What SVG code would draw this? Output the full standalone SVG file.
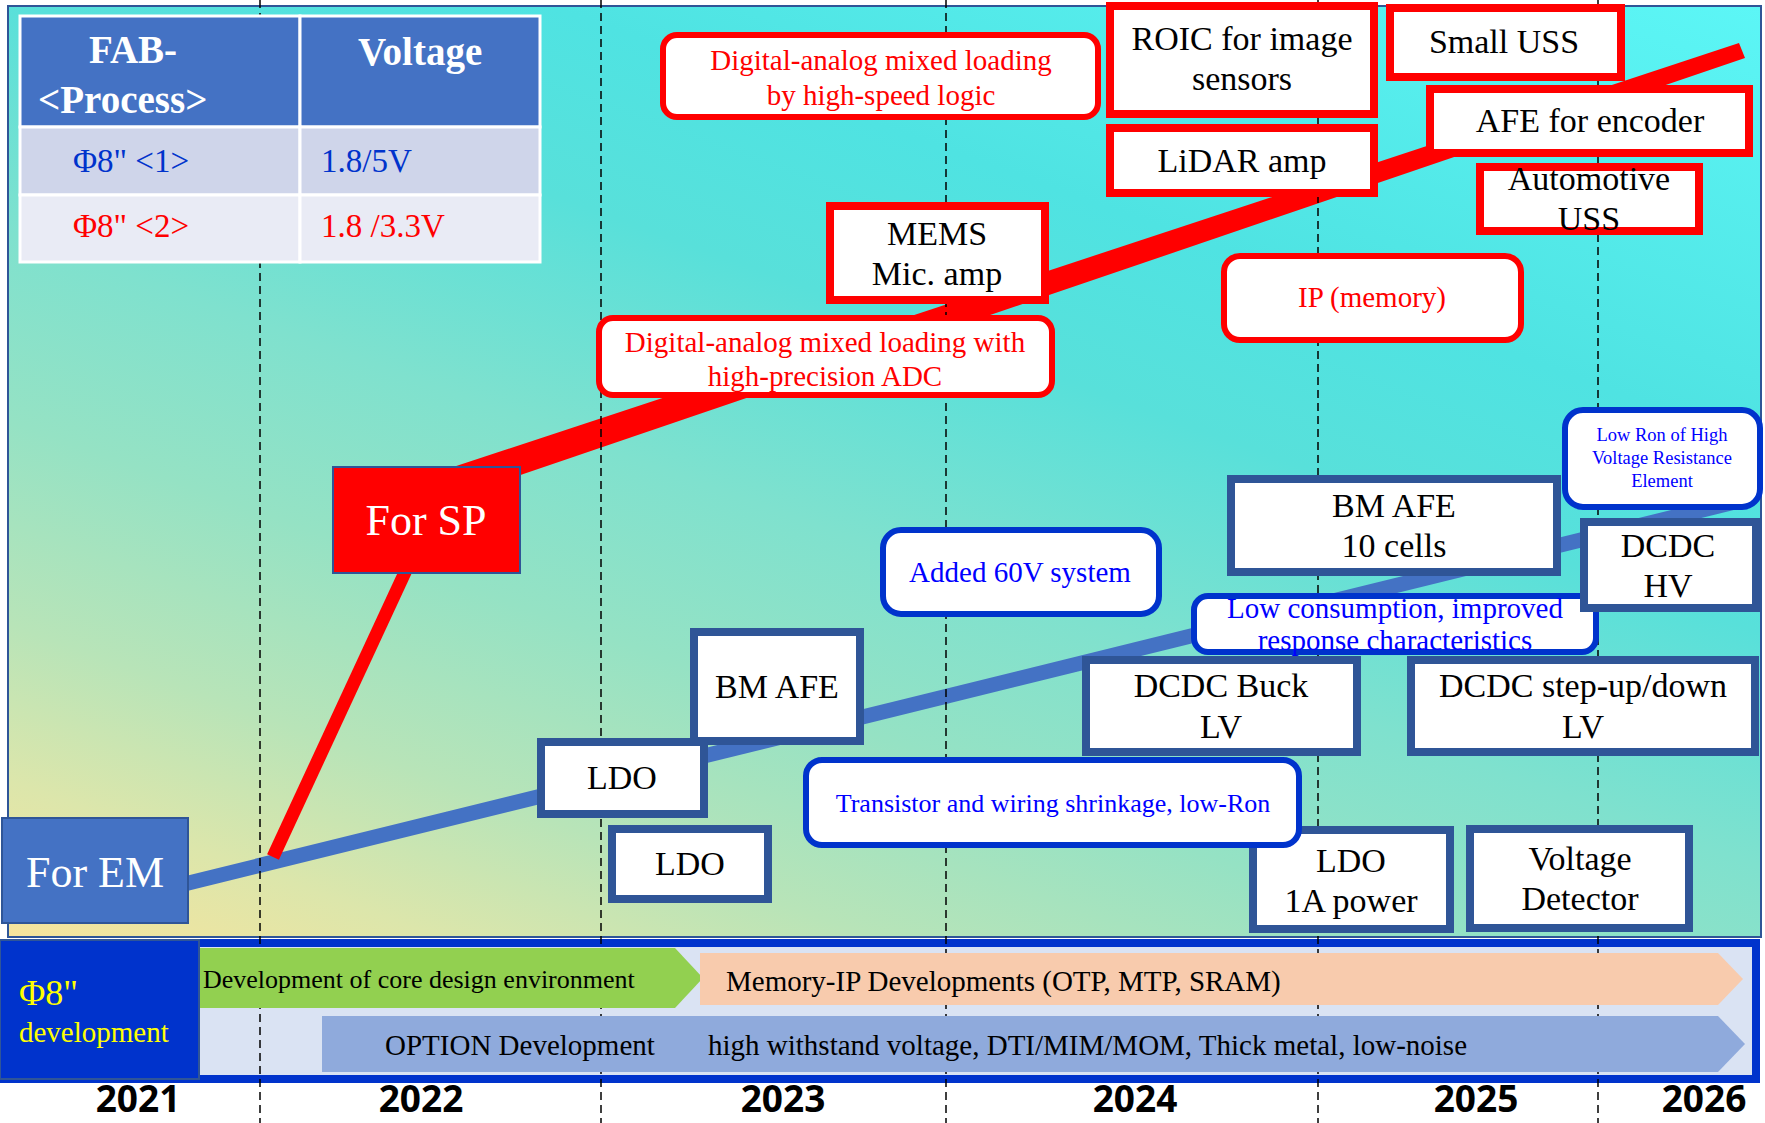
<svg xmlns="http://www.w3.org/2000/svg" width="1765" height="1123" viewBox="0 0 1765 1123">
<defs>
<linearGradient id="bg" gradientUnits="userSpaceOnUse" x1="8" y1="937" x2="509" y2="-447">
<stop offset="0" stop-color="#F7E49C"/>
<stop offset="0.1" stop-color="#DCE6AB"/>
<stop offset="0.2" stop-color="#B8E4B8"/>
<stop offset="0.33" stop-color="#95E2C4"/>
<stop offset="0.45" stop-color="#7FE1CE"/>
<stop offset="0.6" stop-color="#58E0DA"/>
<stop offset="0.72" stop-color="#4FE3E2"/>
<stop offset="1" stop-color="#5CF6F6"/>
</linearGradient>
<style>
text{font-family:"Liberation Serif","Times New Roman",serif;}
.c{text-anchor:middle}
.k{fill:#000;font-size:34px}
.rt{fill:#FF0000;font-size:29px}
.bt{fill:#0000FF;font-size:29px}
.db{fill:#FFFFFF;stroke:#2F5597;stroke-width:8}
.rb{fill:#FFFFFF;stroke:#FF0000;stroke-width:8}
.rr{fill:#FFFFFF;stroke:#FF0000;stroke-width:6}
.br{fill:#FFFFFF;stroke:#0033CC;stroke-width:6}
.grid{stroke:#000;stroke-width:1.5;stroke-dasharray:8 5;fill:none}
.yr{font-family:"Open Sans","Liberation Sans",sans-serif;font-weight:700;font-size:37px;fill:#000;text-anchor:middle}
.cell{stroke:#FFFFFF;stroke-width:3}
.bandt{fill:#000;font-size:29px}
</style>
</defs>

<rect x="0" y="0" width="1765" height="1123" fill="#FFFFFF"/>
<!-- main panel -->
<rect id="panel" x="8" y="6" width="1753" height="931" fill="url(#bg)" stroke="#2F5597" stroke-width="2"/>

<!-- bottom band background -->
<rect id="band" x="4" y="943" width="1752" height="136" fill="#DAE3F3" stroke="#0033CC" stroke-width="8"/>

<g id="connectors">
<line x1="160" y1="890" x2="1735" y2="502" stroke="#4472C4" stroke-width="15"/>
<line x1="273" y1="857" x2="420" y2="540" stroke="#FF0000" stroke-width="13"/>
<polygon points="438,472 456,497 1745,58 1739,43" fill="#FF0000"/>
</g>

<g id="gridlines">
<line class="grid" x1="260" y1="0" x2="260" y2="1123"/>
<line class="grid" x1="601" y1="0" x2="601" y2="1123"/>
<line class="grid" x1="946" y1="0" x2="946" y2="1123"/>
<line class="grid" x1="1318" y1="0" x2="1318" y2="1123"/>
<line class="grid" x1="1598" y1="0" x2="1598" y2="1123"/>
</g>

<!-- band contents -->
<g id="band-core">
<polygon points="199,948 675,948 703,978 675,1008 199,1008" fill="#92D050"/>
<text x="203" y="988" font-size="26" fill="#000">Development of core design environment</text>
</g>
<g id="band-memory">
<polygon points="700,953 1718,953 1743,979 1718,1005 700,1005" fill="#F8CBAD"/>
<text class="bandt" x="726" y="991">Memory-IP Developments (OTP, MTP, SRAM)</text>
</g>
<g id="band-option">
<polygon points="322,1016 1718,1016 1745,1044 1718,1072 322,1072" fill="#8FAADC"/>
<text class="bandt" x="385" y="1055">OPTION Development</text>
<text class="bandt" x="708" y="1055">high withstand voltage, DTI/MIM/MOM, Thick metal, low-noise</text>
</g>
<g id="band-label">
<rect x="0" y="940" width="199" height="139" fill="#0033CC" stroke="#2F5597" stroke-width="2"/>
<text x="19" y="1005" font-size="36" fill="#FFFF00">Φ8"</text>
<text x="19" y="1042" font-size="29" fill="#FFFF00">development</text>
</g>

<!-- table -->
<g id="table">
<rect class="cell" x="20" y="16" width="280" height="111" fill="#4472C4"/>
<rect class="cell" x="300" y="16" width="240" height="111" fill="#4472C4"/>
<rect class="cell" x="20" y="127" width="280" height="68" fill="#CFD5EA"/>
<rect class="cell" x="300" y="127" width="240" height="68" fill="#CFD5EA"/>
<rect class="cell" x="20" y="195" width="280" height="67" fill="#E9EBF5"/>
<rect class="cell" x="300" y="195" width="240" height="67" fill="#E9EBF5"/>
<text x="89" y="63" font-size="39" font-weight="700" fill="#FFFFFF">FAB-</text>
<text x="38" y="113" font-size="39" font-weight="700" fill="#FFFFFF">&lt;Process&gt;</text>
<text x="358" y="65" font-size="39" font-weight="700" fill="#FFFFFF">Voltage</text>
<text x="73" y="172" font-size="33" fill="#0033CC">Φ8" &lt;1&gt;</text>
<text x="321" y="172" font-size="33" fill="#0033CC">1.8/5V</text>
<text x="73" y="237" font-size="33" fill="#FF0000">Φ8" &lt;2&gt;</text>
<text x="321" y="237" font-size="33" fill="#FF0000">1.8 /3.3V</text>
</g>

<g id="for-em">
<rect x="2" y="818" width="186" height="105" fill="#4472C4" stroke="#2F5597" stroke-width="2"/>
<text class="c" x="95" y="887" font-size="44" fill="#FFFFFF">For EM</text>
</g>
<g id="for-sp">
<rect x="333" y="467" width="187" height="106" fill="#FF0000" stroke="#2F5597" stroke-width="2"/>
<text class="c" x="426" y="535" font-size="44" fill="#FFFFFF">For SP</text>
</g>

<!-- blue-line nodes -->
<g id="ldo-a"><rect class="db" x="541" y="742" width="163" height="72"/><text class="c k" x="622" y="789">LDO</text></g>
<g id="ldo-b"><rect class="db" x="612" y="829" width="156" height="70"/><text class="c k" x="690" y="875">LDO</text></g>
<g id="bm-afe"><rect class="db" x="694" y="632" width="166" height="109"/><text class="c k" x="777" y="698">BM AFE</text></g>
<g id="dcdc-buck"><rect class="db" x="1086" y="660" width="271" height="92"/><text class="c k" x="1221" y="697">DCDC Buck</text><text class="c k" x="1221" y="738">LV</text></g>
<g id="dcdc-stepupdown"><rect class="db" x="1411" y="660" width="344" height="92"/><text class="c k" x="1583" y="697">DCDC step-up/down</text><text class="c k" x="1583" y="738">LV</text></g>
<g id="ldo-1a"><rect class="db" x="1253" y="830" width="197" height="99"/><text class="c k" x="1351" y="872">LDO</text><text class="c k" x="1351" y="912">1A power</text></g>
<g id="voltage-detector"><rect class="db" x="1470" y="829" width="219" height="99"/><text class="c k" x="1580" y="870">Voltage</text><text class="c k" x="1580" y="910">Detector</text></g>
<g id="bm-afe-10"><rect class="db" x="1231" y="479" width="326" height="93"/><text class="c k" x="1394" y="517">BM AFE</text><text class="c k" x="1394" y="557">10 cells</text></g>
<g id="low-consumption"><rect class="br" x="1194" y="596" width="402" height="56" rx="14"/><text class="c bt" x="1395" y="618">Low consumption, improved</text><text class="c bt" x="1395" y="650">response characteristics</text></g>
<g id="dcdc-hv"><rect class="db" x="1584" y="522" width="172" height="86"/><text class="c k" x="1668" y="557">DCDC</text><text class="c k" x="1668" y="597">HV</text></g>
<g id="low-ron"><rect class="br" x="1565" y="410" width="195" height="97" rx="18"/>
<text class="c" x="1662" y="441" font-size="18.5" fill="#0000FF">Low Ron of High</text>
<text class="c" x="1662" y="464" font-size="18.5" fill="#0000FF">Voltage Resistance</text>
<text class="c" x="1662" y="487" font-size="18.5" fill="#0000FF">Element</text></g>
<g id="added-60v"><rect class="br" x="883" y="530" width="276" height="84" rx="18"/><text class="c bt" x="1020" y="582">Added 60V system</text></g>
<g id="transistor"><rect class="br" x="806" y="760" width="493" height="85" rx="16"/><text class="c" x="1053" y="812" style="font-size:26px;fill:#0000FF">Transistor and wiring shrinkage, low-Ron</text></g>

<!-- red-line nodes -->
<g id="mixed-adc"><rect class="rr" x="599" y="318" width="453" height="77" rx="14"/><text class="c rt" x="825" y="352">Digital-analog mixed loading with</text><text class="c rt" x="825" y="386">high-precision ADC</text></g>
<g id="mems"><rect class="rb" x="830" y="206" width="215" height="94"/><text class="c k" x="937" y="245">MEMS</text><text class="c k" x="937" y="285">Mic. amp</text></g>
<g id="mixed-logic"><rect class="rr" x="663" y="35" width="435" height="82" rx="14"/><text class="c rt" x="881" y="70">Digital-analog mixed loading</text><text class="c rt" x="881" y="105">by high-speed logic</text></g>
<g id="roic"><rect class="rb" x="1110" y="6" width="264" height="108"/><text class="c k" x="1242" y="50">ROIC for image</text><text class="c k" x="1242" y="90">sensors</text></g>
<g id="lidar"><rect class="rb" x="1110" y="128" width="264" height="65"/><text class="c k" x="1242" y="172">LiDAR amp</text></g>
<g id="small-uss"><rect class="rb" x="1390" y="8" width="231" height="69"/><text class="c k" x="1504" y="53">Small USS</text></g>
<g id="afe-encoder"><rect class="rb" x="1430" y="89" width="319" height="64"/><text class="c k" x="1590" y="132">AFE for encoder</text></g>
<g id="automotive-uss"><rect class="rb" x="1480" y="167" width="219" height="64"/><text class="c k" x="1589" y="190">Automotive</text><text class="c k" x="1589" y="230">USS</text></g>
<g id="ip-memory"><rect class="rr" x="1224" y="256" width="297" height="84" rx="16"/><text class="c rt" x="1372" y="307">IP (memory)</text></g>

<!-- years -->
<g id="years">
<text class="yr" x="138" y="1112">2021</text>
<text class="yr" x="421" y="1112">2022</text>
<text class="yr" x="783" y="1112">2023</text>
<text class="yr" x="1135" y="1112">2024</text>
<text class="yr" x="1476" y="1112">2025</text>
<text class="yr" x="1704" y="1112">2026</text>
</g>
</svg>
